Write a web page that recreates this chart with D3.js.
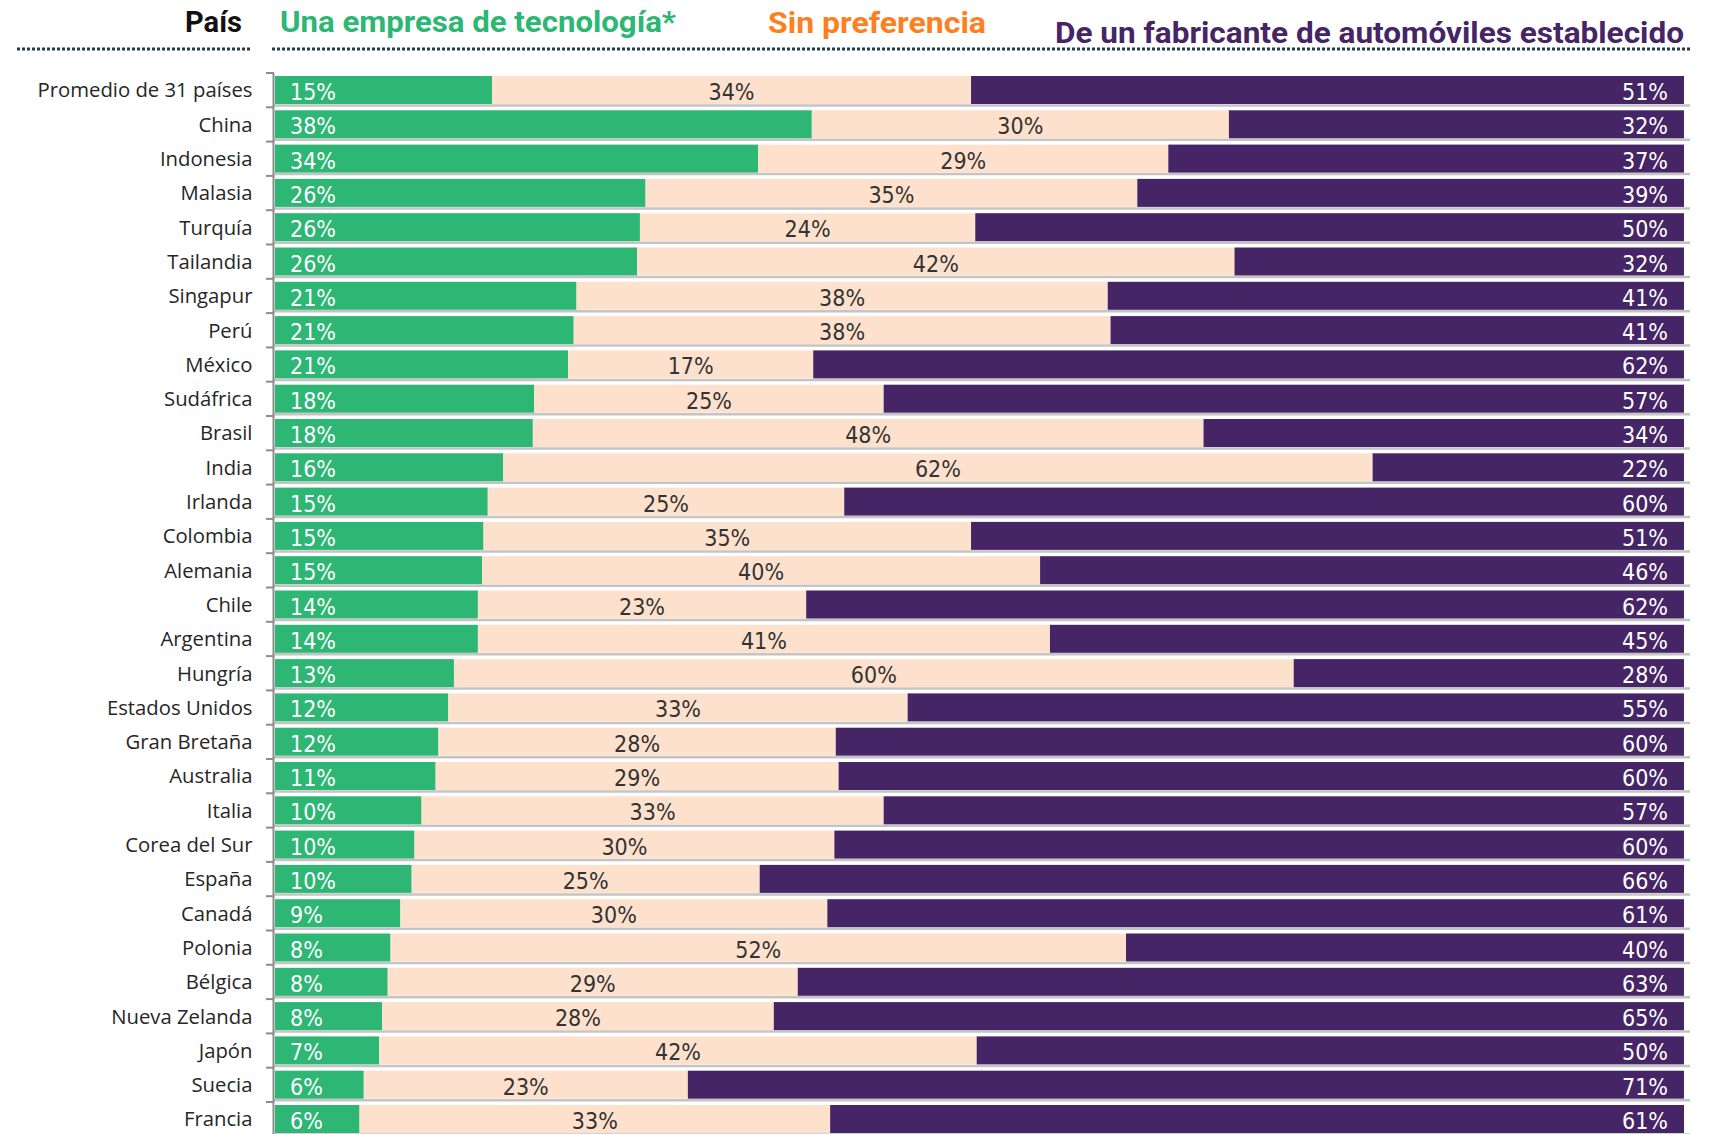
<!DOCTYPE html>
<html>
<head>
<meta charset="utf-8">
<script src="https://cdn.jsdelivr.net/npm/d3@7"></script>
<style>
  html, body { margin: 0; padding: 0; background: #ffffff; }
  svg { display: block; }
</style>
</head>
<body>
<svg id="chart" width="1709" height="1134"></svg>
<script>
// ---- Data (percentages) ----
const categories = [
  "Promedio de 31 países", "China", "Indonesia", "Malasia", "Turquía", "Tailandia",
  "Singapur", "Perú", "México", "Sudáfrica", "Brasil", "India", "Irlanda", "Colombia",
  "Alemania", "Chile", "Argentina", "Hungría", "Estados Unidos", "Gran Bretaña",
  "Australia", "Italia", "Corea del Sur", "España", "Canadá", "Polonia", "Bélgica",
  "Nueva Zelanda", "Japón", "Suecia", "Francia"
];
// "Una empresa de tecnología*"
const techValues = [15.4, 38.1, 34.3, 26.3, 25.9, 25.7, 21.4, 21.2, 20.8, 18.4, 18.3, 16.2, 15.1, 14.8,
  14.7, 14.4, 14.4, 12.7, 12.3, 11.6, 11.4, 10.4, 9.9, 9.7, 8.9, 8.2, 8.0, 7.6, 7.4, 6.3, 6.0];
// "Sin preferencia"
const noneValues = [34.0, 29.6, 29.1, 34.9, 23.8, 42.4, 37.7, 38.1, 17.4, 24.8, 47.6, 61.7, 25.3, 34.6,
  39.6, 23.3, 40.6, 59.6, 32.6, 28.2, 28.6, 32.8, 29.8, 24.7, 30.3, 52.2, 29.1, 27.8, 42.4, 23.0, 33.4];
// "De un fabricante de automóviles establecido"
const autoValues = [50.6, 32.3, 36.6, 38.8, 50.3, 31.9, 40.9, 40.7, 61.8, 56.8, 34.1, 22.1, 59.6, 50.6,
  45.7, 62.3, 45.0, 27.7, 55.1, 60.2, 60.0, 56.8, 60.3, 65.6, 60.8, 39.6, 62.9, 64.6, 50.2, 70.7, 60.6];

const seriesNames = ["Una empresa de tecnología*", "Sin preferencia", "De un fabricante de automóviles establecido"];
const headerCategory = "País";

// ---- Styles ----
const colGreen = "#2db674", colBeige = "#fee1cd", colPurple = "#452565", colOrange = "#ff7f1e";
const labelFont = "'Open Sans', 'Noto Sans', sans-serif";
const valueFont = "'Liberation Sans Narrow', 'DejaVu Sans Condensed', 'Roboto', sans-serif";
const headFont = "Roboto, 'Liberation Sans', sans-serif";

const svg = d3.select("#chart");

const x = d3.scaleLinear().domain([0, 100]).range([275, 1684]);
const y = d3.scaleBand().domain(categories).range([73, 73 + 31 * 34.3]).padding(0);
const barOff = 3, barH = 28;

const rows = categories.map((c, i) => ({
  c, t: techValues[i], n: noneValues[i], a: autoValues[i]
}));

// row separators (gray line under each bar)
svg.append("g").selectAll("line").data(rows).join("line")
  .attr("x1", 274).attr("x2", 1690)
  .attr("y1", d => y(d.c) + barOff + barH + 1.5)
  .attr("y2", d => y(d.c) + barOff + barH + 1.5)
  .attr("stroke", "#c4c4c4").attr("stroke-width", 2.5);

const g = svg.append("g");
const rowG = g.selectAll("g.row").data(rows).join("g").attr("class", "row");

rowG.append("rect")
  .attr("x", x(0)).attr("y", d => y(d.c) + barOff)
  .attr("width", d => x(d.t) - x(0)).attr("height", barH)
  .attr("fill", colGreen);
rowG.append("rect")
  .attr("x", d => x(d.t)).attr("y", d => y(d.c) + barOff)
  .attr("width", d => x(d.t + d.n) - x(d.t)).attr("height", barH)
  .attr("fill", colBeige);
rowG.append("rect")
  .attr("x", d => x(d.t + d.n)).attr("y", d => y(d.c) + barOff)
  .attr("width", d => x(d.t + d.n + d.a) - x(d.t + d.n)).attr("height", barH)
  .attr("fill", colPurple);

const fmt = v => Math.round(v) + "%";
const vSize = 23, vBase = barOff + 24;
rowG.append("text")
  .attr("x", x(0) + 15).attr("y", d => y(d.c) + vBase)
  .attr("fill", "#ffffff").attr("font-family", valueFont).attr("font-size", vSize)
  .text(d => fmt(d.t));
rowG.append("text")
  .attr("x", d => (x(d.t) + x(d.t + d.n)) / 2).attr("y", d => y(d.c) + vBase)
  .attr("text-anchor", "middle")
  .attr("fill", "#333333").attr("font-family", valueFont).attr("font-size", vSize)
  .text(d => fmt(d.n));
rowG.append("text")
  .attr("x", x(100) - 16).attr("y", d => y(d.c) + vBase)
  .attr("text-anchor", "end")
  .attr("fill", "#ffffff").attr("font-family", valueFont).attr("font-size", vSize)
  .text(d => fmt(d.a));

// category axis
const axis = d3.axisLeft(y).tickSize(0).tickPadding(21);
const axG = svg.append("g").attr("transform", "translate(273.5,0)").call(axis);
axG.select(".domain").remove();
axG.selectAll("text")
  .attr("font-family", labelFont).attr("font-size", 20.3).attr("fill", "#262626")
  .attr("dy", "0.36em").attr("y", 0);

// axis line and boundary ticks
const bounds = categories.map(c => y(c)).concat([y.range()[1]]);
svg.append("line").attr("x1", 273.5).attr("x2", 273.5)
  .attr("y1", bounds[0]).attr("y2", 1134)
  .attr("stroke", "#8c8c8c").attr("stroke-width", 2);
svg.append("g").selectAll("line").data(bounds).join("line")
  .attr("x1", 266).attr("x2", 274)
  .attr("y1", d => d).attr("y2", d => d)
  .attr("stroke", "#8c8c8c").attr("stroke-width", 2);

// headers
const heads = [
  { t: headerCategory, x: 185, w: 57, y: 32, c: "#111111" },
  { t: seriesNames[0], x: 280, w: 396, y: 32, c: colGreen },
  { t: seriesNames[1], x: 768, w: 218, y: 33, c: colOrange },
  { t: seriesNames[2], x: 1055, w: 629, y: 43, c: colPurple }
];
svg.append("g").selectAll("text").data(heads).join("text")
  .attr("x", d => d.x).attr("y", d => d.y)
  .attr("textLength", d => d.w).attr("lengthAdjust", "spacingAndGlyphs")
  .attr("font-family", headFont).attr("font-weight", 700).attr("font-size", 29)
  .attr("fill", d => d.c)
  .text(d => d.t);

// dotted rules
[[17, 251], [272, 1691]].forEach(([a, b]) => {
  svg.append("line").attr("x1", a).attr("x2", b).attr("y1", 49).attr("y2", 49)
    .attr("stroke", "#1f3d4c").attr("stroke-width", 3).attr("stroke-dasharray", "3,2");
});
</script>
</body>
</html>
